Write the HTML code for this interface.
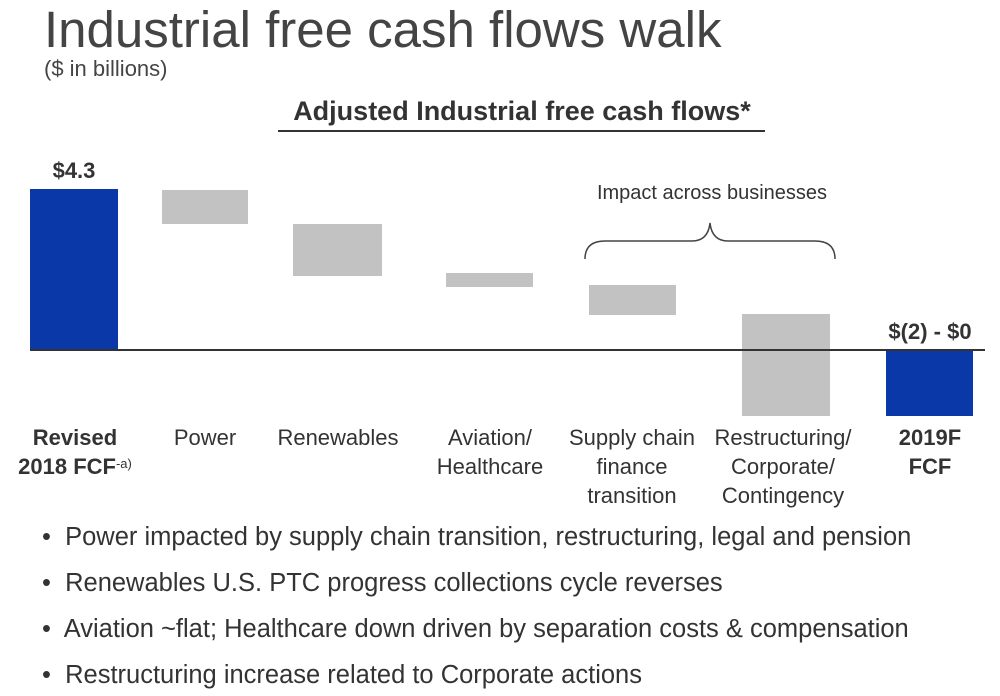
<!DOCTYPE html>
<html><head><meta charset="utf-8"><style>
body{margin:0;width:1000px;height:696px;background:#fff;position:relative;overflow:hidden;font-family:"Liberation Sans",sans-serif;color:#333}
.a{position:absolute;white-space:nowrap}
.b{position:absolute}
.lab{position:absolute;text-align:center;font-size:22px;line-height:29px;color:#333;white-space:nowrap}
.bul{position:absolute;left:42px;font-size:25.5px;color:#333;white-space:nowrap}
</style></head><body>
<div class="a" style="left:44px;top:0px;font-size:51px;color:#444">Industrial free cash flows walk</div>
<div class="a" style="left:44px;top:56px;font-size:22px;color:#444">($ in billions)</div>
<div class="a" style="left:262px;top:96px;width:520px;text-align:center;font-size:27px;font-weight:bold;color:#333">Adjusted Industrial free cash flows*</div>
<div class="b" style="left:278px;top:130px;width:487px;height:1.5px;background:#333"></div>

<div class="b" style="left:30px;top:189px;width:88px;height:161px;background:#0a38a8"></div>
<div class="b" style="left:162px;top:190px;width:86px;height:34px;background:#c2c2c2"></div>
<div class="b" style="left:293px;top:224px;width:89px;height:52px;background:#c2c2c2"></div>
<div class="b" style="left:446px;top:273px;width:87px;height:14px;background:#c2c2c2"></div>
<div class="b" style="left:589px;top:285px;width:87px;height:30px;background:#c2c2c2"></div>
<div class="b" style="left:742px;top:314px;width:88px;height:102px;background:#c2c2c2"></div>
<div class="b" style="left:886px;top:350px;width:87px;height:66px;background:#0a38a8"></div>
<div class="b" style="left:30px;top:349px;width:955px;height:2px;background:#333"></div>

<div class="a" style="left:30px;top:158px;width:88px;text-align:center;font-size:22px;font-weight:bold">$4.3</div>
<div class="a" style="left:870px;top:319px;width:120px;text-align:center;font-size:22px;font-weight:bold">$(2) - $0</div>
<div class="a" style="left:562px;top:182px;width:300px;text-align:center;font-size:20px">Impact across businesses</div>
<svg class="b" style="left:0;top:0" width="1000" height="696"><path d="M585 259 Q585 241 605 241 L692 241 Q708 241 710 223 Q712 241 728 241 L815 241 Q835 241 835 259" fill="none" stroke="#444" stroke-width="1.5"/></svg>

<div class="lab" style="left:0;top:423px;width:150px;font-weight:bold">Revised<br>2018 FCF<span style="font-weight:normal;font-size:13px;position:relative;top:-6px;line-height:0">-a)</span></div>
<div class="lab" style="left:145px;top:423px;width:120px">Power</div>
<div class="lab" style="left:268px;top:423px;width:140px">Renewables</div>
<div class="lab" style="left:420px;top:423px;width:140px">Aviation/<br>Healthcare</div>
<div class="lab" style="left:557px;top:423px;width:150px">Supply chain<br>finance<br>transition</div>
<div class="lab" style="left:703px;top:423px;width:160px">Restructuring/<br>Corporate/<br>Contingency</div>
<div class="lab" style="left:870px;top:423px;width:120px;font-weight:bold">2019F<br>FCF</div>

<div class="bul" style="top:523px">•&nbsp; Power impacted by supply chain transition, restructuring, legal and pension</div>
<div class="bul" style="top:569px">•&nbsp; Renewables U.S. PTC progress collections cycle reverses</div>
<div class="bul" style="top:615px">•&nbsp; Aviation ~flat; Healthcare down driven by separation costs &amp; compensation</div>
<div class="bul" style="top:661px">•&nbsp; Restructuring increase related to Corporate actions</div>
</body></html>
